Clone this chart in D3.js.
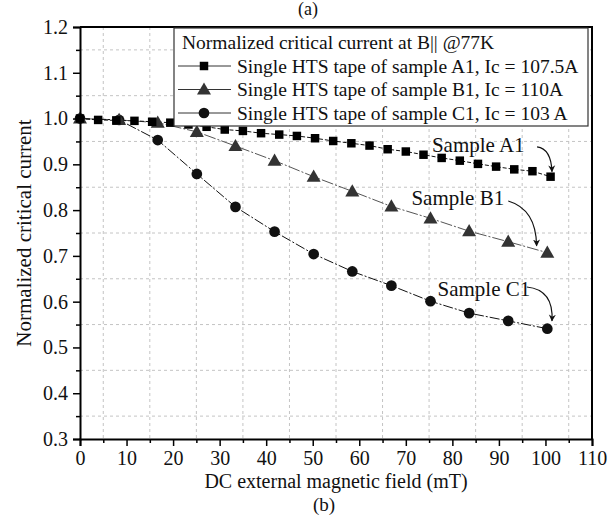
<!DOCTYPE html>
<html>
<head>
<meta charset="utf-8">
<script src="https://cdn.jsdelivr.net/npm/d3@7"></script>
<style>
  body { margin: 0; background: #fff; }
  svg { display: block; font-family: "Liberation Serif", "Times New Roman", serif; }
</style>
</head>
<body>
<svg id="chart" width="609" height="515"></svg>
<script>
// datos
const campoA1 = [0, 3.9, 7.8, 11.7, 15.5, 19.4, 23.3, 27.2, 31.1, 35, 38.9, 42.8, 46.6, 50.5, 54.4, 58.3, 62.2, 66.1, 70, 73.8, 77.7, 81.6, 85.5, 89.4, 93.3, 97.2, 101.1];
const icA1 = [1.0, 0.997, 0.996, 0.995, 0.993, 0.991, 0.987, 0.982, 0.976, 0.973, 0.968, 0.965, 0.962, 0.957, 0.951, 0.946, 0.941, 0.933, 0.928, 0.921, 0.914, 0.908, 0.901, 0.895, 0.889, 0.885, 0.873];

const campoB1 = [0, 8.4, 16.7, 25.1, 33.4, 41.8, 50.2, 58.5, 66.9, 75.3, 83.6, 92, 100.4];
const icB1 = [1.0, 0.997, 0.991, 0.971, 0.940, 0.908, 0.873, 0.841, 0.808, 0.782, 0.754, 0.731, 0.707];

const campoC1 = [0, 8.4, 16.7, 25.1, 33.4, 41.8, 50.2, 58.5, 66.9, 75.3, 83.6, 92, 100.4];
const icC1 = [1.0, 0.997, 0.953, 0.879, 0.807, 0.753, 0.704, 0.666, 0.635, 0.601, 0.575, 0.558, 0.541];

const ticksX = [0, 10, 20, 30, 40, 50, 60, 70, 80, 90, 100, 110];
const ticksY = [0.3, 0.4, 0.5, 0.6, 0.7, 0.8, 0.9, 1.0, 1.1, 1.2];

const leyenda = [
  "Normalized critical current at B|| @77K",
  "Single HTS tape of sample A1, Ic = 107.5A",
  "Single HTS tape of sample B1, Ic = 110A",
  "Single HTS tape of sample C1, Ic = 103 A"
];

const etiquetas = ["Sample A1", "Sample B1", "Sample C1"];

const svg = d3.select("#chart");

const izq = 80, der = 592, arriba = 27, abajo = 439;

const x = d3.scaleLinear().domain([0, 110]).range([izq, der]);
const y = d3.scaleLinear().domain([0.3, 1.2]).range([abajo, arriba]);

// rejilla en las marcas menores
const menoresX = d3.range(5, 110, 10);
const menoresY = d3.range(0.35, 1.2, 0.1);

svg.append("g").selectAll("line").data(menoresX).join("line")
  .attr("x1", d => x(d)).attr("x2", d => x(d))
  .attr("y1", arriba).attr("y2", abajo)
  .attr("stroke", "#c4c4c4").attr("stroke-dasharray", "3,3");

svg.append("g").selectAll("line").data(menoresY).join("line")
  .attr("x1", izq).attr("x2", der)
  .attr("y1", d => y(d)).attr("y2", d => y(d))
  .attr("stroke", "#c4c4c4").attr("stroke-dasharray", "3,3");

// series
const linea = d3.line().x(d => x(d[0])).y(d => y(d[1]));

const serieA1 = d3.zip(campoA1, icA1);
const serieB1 = d3.zip(campoB1, icB1);
const serieC1 = d3.zip(campoC1, icC1);

svg.append("path").datum(serieB1)
  .attr("d", linea).attr("fill", "none")
  .attr("stroke", "#555").attr("stroke-width", 1)
  .attr("stroke-dasharray", "12,2,2,2");

svg.append("path").datum(serieC1)
  .attr("d", linea).attr("fill", "none")
  .attr("stroke", "#111").attr("stroke-width", 1)
  .attr("stroke-dasharray", "10,2,2,2");

svg.append("path").datum(serieA1)
  .attr("d", linea).attr("fill", "none")
  .attr("stroke", "#111").attr("stroke-width", 1)
  .attr("stroke-dasharray", "4,2");

const cuadrado = d3.symbol().type(d3.symbolSquare).size(72);
const triangulo = d3.symbol().type(d3.symbolTriangle).size(85);
const circulo = d3.symbol().type(d3.symbolCircle).size(90);

svg.append("g").selectAll("path").data(serieC1).join("path")
  .attr("transform", d => `translate(${x(d[0])},${y(d[1])})`)
  .attr("d", circulo).attr("fill", "#111");

svg.append("g").selectAll("path").data(serieB1).join("path")
  .attr("transform", d => `translate(${x(d[0])},${y(d[1]) + 1})`)
  .attr("d", triangulo).attr("fill", "#333");

svg.append("g").selectAll("path").data(serieA1).join("path")
  .attr("transform", d => `translate(${x(d[0])},${y(d[1])})`)
  .attr("d", cuadrado).attr("fill", "#000");

// ejes
const ejeX = svg.append("g").attr("transform", `translate(0,${abajo})`)
  .call(d3.axisBottom(x).tickValues(ticksX).tickSize(7).tickFormat(d3.format("d")));
svg.append("g").attr("transform", `translate(0,${abajo})`)
  .call(d3.axisBottom(x).tickValues(menoresX).tickSize(4).tickFormat(""))
  .select(".domain").remove();

const ejeY = svg.append("g").attr("transform", `translate(${izq},0)`)
  .call(d3.axisLeft(y).tickValues(ticksY).tickSize(7).tickFormat(d3.format(".1f")));
svg.append("g").attr("transform", `translate(${izq},0)`)
  .call(d3.axisLeft(y).tickValues(menoresY).tickSize(4).tickFormat(""))
  .select(".domain").remove();

svg.selectAll(".tick line").attr("stroke", "#000").attr("stroke-width", 1.5);
svg.selectAll(".domain").attr("stroke", "#000").attr("stroke-width", 2);
svg.selectAll(".tick text")
  .attr("font-family", "Liberation Serif, serif")
  .attr("font-size", 20).attr("fill", "#111");
ejeX.selectAll(".tick text").attr("dy", "0.8em");
ejeY.selectAll(".tick text").attr("dx", "-0.1em");

// marco superior y derecho
svg.append("path")
  .attr("d", `M${izq},${arriba}H${der}V${abajo}`)
  .attr("fill", "none").attr("stroke", "#000").attr("stroke-width", 2);

// leyenda
const legX = 174, legY = 28, legW = 414, legH = 98;
const leg = svg.append("g");
leg.append("rect").attr("x", legX).attr("y", legY)
  .attr("width", legW).attr("height", legH)
  .attr("fill", "#fff").attr("stroke", "#333").attr("stroke-width", 1.2);

leg.selectAll("text").data(leyenda).join("text")
  .attr("x", (d, i) => i === 0 ? legX + 8 : legX + 63)
  .attr("y", (d, i) => legY + 21 + i * 23.5)
  .attr("font-size", 19.5).attr("fill", "#111")
  .text(d => d);

const simbolos = [cuadrado, triangulo, circulo];
const colores = ["#000", "#333", "#111"];
simbolos.forEach((s, i) => {
  const cy = legY + 38 + i * 23.5;
  leg.append("line").attr("x1", legX + 4).attr("x2", legX + 57)
    .attr("y1", cy).attr("y2", cy).attr("stroke", "#333").attr("stroke-width", 1);
  leg.append("path").attr("transform", `translate(${legX + 30},${cy + (i === 1 ? 1 : 0)})`)
    .attr("d", s).attr("fill", colores[i]);
});

// anotaciones con flechas (en unidades de datos)
const posEtiqueta = [[75.6, 0.927], [71.2, 0.811], [76.8, 0.612]];
const flechas = [
  [[98.2, 0.938], [101.2, 0.934], [101.4, 0.884]],
  [[92.0, 0.820], [98.0, 0.802], [98.1, 0.722]],
  [[96.0, 0.632], [101.8, 0.626], [101.4, 0.558]]
];

svg.append("defs").append("marker")
  .attr("id", "punta").attr("viewBox", "0 0 10 10")
  .attr("refX", 9).attr("refY", 5)
  .attr("markerWidth", 7).attr("markerHeight", 9)
  .attr("markerUnits", "userSpaceOnUse")
  .attr("orient", "auto")
  .append("path").attr("d", "M0,0L10,5L0,10L3,5Z").attr("fill", "#111");

etiquetas.forEach((t, i) => {
  svg.append("text")
    .attr("x", x(posEtiqueta[i][0])).attr("y", y(posEtiqueta[i][1]))
    .attr("font-size", 21).attr("fill", "#111")
    .text(t);
  const p = flechas[i];
  svg.append("path")
    .attr("d", `M${x(p[0][0])},${y(p[0][1])}Q${x(p[1][0])},${y(p[1][1])} ${x(p[2][0])},${y(p[2][1])}`)
    .attr("fill", "none").attr("stroke", "#111").attr("stroke-width", 1.2)
    .attr("marker-end", "url(#punta)");
});

// titulos
svg.append("text")
  .attr("x", (izq + der) / 2).attr("y", 488)
  .attr("text-anchor", "middle").attr("font-size", 20).attr("fill", "#111")
  .text("DC external magnetic field (mT)");

svg.append("text")
  .attr("x", 324).attr("y", 511)
  .attr("text-anchor", "middle").attr("font-size", 19).attr("fill", "#111")
  .text("(b)");

svg.append("text")
  .attr("transform", `translate(31,${(arriba + abajo) / 2}) rotate(-90)`)
  .attr("text-anchor", "middle").attr("font-size", 21).attr("fill", "#111")
  .text("Normalized critical current");

svg.append("text")
  .attr("x", 308).attr("y", 15)
  .attr("text-anchor", "middle").attr("font-size", 18).attr("fill", "#111")
  .text("(a)");
</script>
</body>
</html>
